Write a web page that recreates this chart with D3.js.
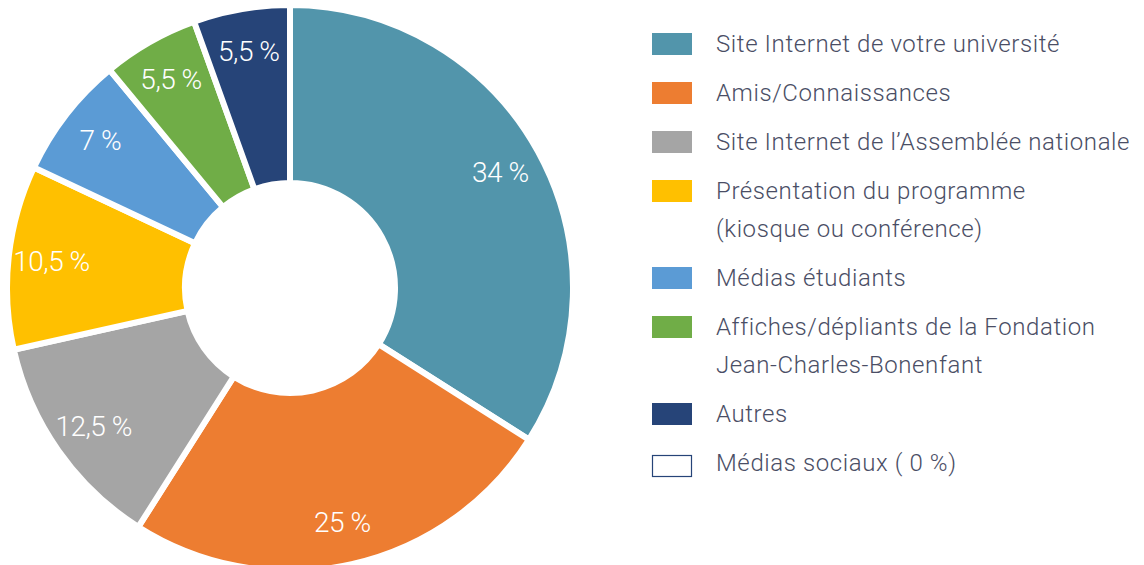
<!DOCTYPE html>
<head>
  <meta charset="utf-8">
  <script src="https://cdn.jsdelivr.net/npm/d3@7"></script>
  <style>
    body {
      margin: 0;
      background: #fff;
      font-family: Roboto, "Open Sans", sans-serif;
    }
    .label {
      fill: #fff;
      font-weight: 300;
      font-size: 28px;
      letter-spacing: -0.5px;
    }
    .legend text {
      fill: #4a4e65;
      font-weight: 300;
      font-size: 24px;
      letter-spacing: 0.6px;
    }
  </style>
</head>

<body>
  <div id="chart"></div>
  <script>

  var width = 1144
    , height = 565
    , cx = 290
    , cy = 288

  var categories = [
    ["Site Internet de votre université"],
    ["Amis/Connaissances"],
    ["Site Internet de l’Assemblée nationale"],
    ["Présentation du programme", "(kiosque ou conférence)"],
    ["Médias étudiants"],
    ["Affiches/dépliants de la Fondation", "Jean-Charles-Bonenfant"],
    ["Autres"],
    ["Médias sociaux ( 0 %)"]
  ]

  var values = [34, 25, 12.5, 10.5, 7, 5.5, 5.5, 0]

  var colors = ["#5295ab", "#ed7d31", "#a5a5a5", "#ffc000", "#5b9bd5", "#70ad47", "#264478", "#ffffff"]

  var data = values.map(function(v, i) { return {value: v, name: categories[i], color: colors[i]} })

  var svg = d3.select("#chart").append("svg")
      .attr("width", width)
      .attr("height", height)

  var pie = d3.pie()
      .sort(null)
      .value(function(d) { return d.value })

  var arc = d3.arc()
      .innerRadius(105)
      .outerRadius(283)

  var labelArc = d3.arc()
      .innerRadius(240)
      .outerRadius(240)

  var g = svg.append("g")
      .attr("transform", "translate(" + cx + "," + cy + ")")

  var slices = pie(data).filter(function(d) { return d.data.value > 0 })

  g.selectAll(".slice")
      .data(slices)
    .enter().append("path")
      .attr("class", "slice")
      .attr("d", arc)
      .style("fill", function(d) { return d.data.color })
      .style("stroke", "#fff")
      .style("stroke-width", 6)
      .style("stroke-linejoin", "miter")

  g.selectAll(".label")
      .data(slices)
    .enter().append("text")
      .attr("class", "label")
      .attr("transform", function(d) { return "translate(" + labelArc.centroid(d) + ")" })
      .attr("text-anchor", "middle")
      .attr("dominant-baseline", "central")
      .text(function(d) { return String(d.data.value).replace(".", ",") + " %" })

  // legend, one row per category, wrapped lines add 38px
  var legendX = 652
    , rowY = 33
    , rows = []

  data.forEach(function(d) {
    rows.push(rowY)
    rowY += 49 + 38 * (d.name.length - 1)
  })

  var legend = svg.append("g")
      .attr("class", "legend")
    .selectAll("g")
      .data(data)
    .enter().append("g")
      .attr("transform", function(d, i) { return "translate(" + legendX + "," + rows[i] + ")" })

  legend.append("rect")
      .attr("width", function(d) { return d.value > 0 ? 40 : 39 })
      .attr("height", function(d) { return d.value > 0 ? 22 : 21 })
      .attr("x", function(d) { return d.value > 0 ? 0 : 0.5 })
      .attr("y", function(d) { return d.value > 0 ? 0 : 3.5 })
      .style("fill", function(d) { return d.color })
      .style("stroke", function(d) { return d.value > 0 ? "none" : "#264478" })
      .style("stroke-width", 1.2)

  legend.selectAll("text")
      .data(function(d) { return d.name })
    .enter().append("text")
      .attr("x", 64)
      .attr("y", function(d, i) { return 19 + i * 38 })
      .text(function(d) { return d })

  </script>
</body>
